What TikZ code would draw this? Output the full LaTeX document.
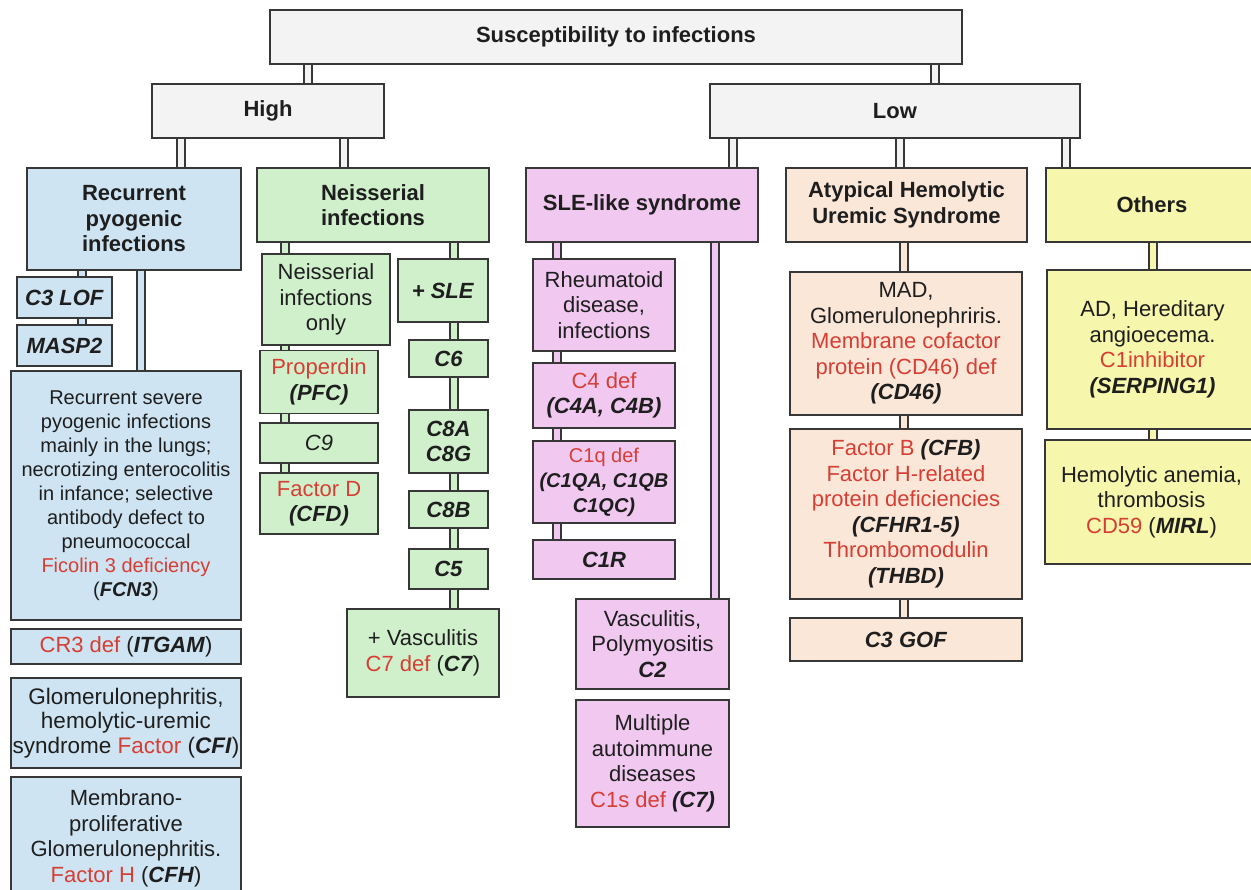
\documentclass[tikz,border=0pt]{standalone}
\usepackage{fontspec}
\setmainfont{Liberation Sans}
\usetikzlibrary{calc}
\definecolor{boxline}{RGB}{55,55,55}
\definecolor{txtdark}{RGB}{30,30,30}
\definecolor{txtred}{RGB}{214,62,52}
\definecolor{grayfill}{RGB}{243,243,243}
\definecolor{bluefill}{RGB}{206,228,242}
\definecolor{grnfill}{RGB}{208,240,204}
\definecolor{pinkfill}{RGB}{240,200,240}
\definecolor{peachfill}{RGB}{251,231,216}
\definecolor{yelfill}{RGB}{246,246,172}
\newcommand\rd[1]{\textcolor{txtred}{#1}}
\newcommand\gn[1]{\textbf{\textit{#1}}}
\tikzset{wh/.style 2 args={minimum width=#1, minimum height=#2}}

\begin{document}
\begin{tikzpicture}[x=1pt, y=-1pt, font=\fontsize{22}{25.5}\selectfont,
  box/.style={draw=boxline, line width=1.4pt, fill=#1, align=center, inner sep=0pt, text=txtdark},
  link/.style={draw=boxline, line width=1.3pt, double=#1, double distance=6.5pt}]
  \useasboundingbox (0,0) rectangle (1251,890);
  \clip (0,0) rectangle (1251,890);
  % top levels
  \node[box=grayfill, wh={692}{54}] (top) at (616,37) {\textbf{Susceptibility to infections}};
  \node[box=grayfill, wh={232}{54}] (hi) at (268,111) {\textbf{High}};
  \node[box=grayfill, wh={370}{54}] (lo) at (895,111) {\textbf{Low}};
  \node[box=bluefill, wh={214}{102}] (rec) at (134,219) {\textbf{Recurrent}\\\textbf{pyogenic}\\\textbf{infections}};
  \node[box=grnfill, wh={232}{74}] (nei) at (373,205) {\textbf{Neisserial}\\\textbf{infections}};
  \node[box=pinkfill, wh={232}{74}] (sle) at (642,205) {\textbf{SLE-like syndrome}};
  \node[box=peachfill, wh={241}{74}] (ahus) at (906.5,205) {\textbf{Atypical Hemolytic}\\\textbf{Uremic Syndrome}};
  \node[box=yelfill, wh={212}{74}] (oth) at (1152,205) {\textbf{Others}};
  % recurrent pyogenic
  \node[box=bluefill, wh={95}{41}] (c3lof) at (64.5,297.5) {\gn{C3 LOF}};
  \node[box=bluefill, wh={95}{41}] (masp) at (64.5,345.5) {\gn{MASP2}};
  \node[box=bluefill, wh={230}{249}, font=\fontsize{20}{24}\selectfont] (big) at (126,495.5)
    {Recurrent severe\\pyogenic infections\\mainly in the lungs;\\necrotizing enterocolitis\\in infance; selective\\antibody defect to\\pneumococcal\\\rd{Ficolin 3 deficiency}\\(\gn{FCN3})};
  \node[box=bluefill, wh={230}{35}] (cr3) at (126,646.5) {\rd{CR3 def} (\gn{ITGAM})};
  \node[box=bluefill, wh={230}{90}, font=\fontsize{22.5}{24.5}\selectfont] (glom) at (126,723)
    {Glomerulonephritis,\\hemolytic-uremic\\syndrome \rd{Factor} (\gn{CFI})};
  \node[box=bluefill, wh={230}{123}] (memb) at (126,838.5)
    {Membrano-\\proliferative\\Glomerulonephritis.\\\rd{Factor H} (\gn{CFH})};
  % neisserial
  \node[box=grnfill, wh={128}{91}] (only) at (326,299.5) {Neisserial\\infections\\only};
  \node[box=grnfill, wh={118}{63}] (prop) at (319,382) {\rd{Properdin}\\\gn{(PFC)}};
  \node[box=grnfill, wh={118}{40}] (c9) at (319,443) {\textit{C9}};
  \node[box=grnfill, wh={118}{61}] (cfd) at (319,503.5) {\rd{Factor D}\\\gn{(CFD)}};
  \node[box=grnfill, wh={90}{63}] (psle) at (443,290.5) {\gn{+ SLE}};
  \node[box=grnfill, wh={79}{37}] (c6) at (448.5,358.5) {\gn{C6}};
  \node[box=grnfill, wh={79}{63}] (c8a) at (448.5,441.5) {\gn{C8A}\\\gn{C8G}};
  \node[box=grnfill, wh={79}{37}] (c8b) at (448.5,509.5) {\gn{C8B}};
  \node[box=grnfill, wh={79}{40}] (c5) at (448.5,569) {\gn{C5}};
  \node[box=grnfill, wh={152}{88}] (c7) at (423,653) {+ Vasculitis\\\rd{C7 def} (\gn{C7})};
  % sle-like
  \node[box=pinkfill, wh={142}{92}] (rheu) at (604,305) {Rheumatoid\\disease,\\infections};
  \node[box=pinkfill, wh={142}{65}] (c4) at (604,395.5) {\rd{C4 def}\\\gn{(C4A, C4B)}};
  \node[box=pinkfill, wh={142}{82}, font=\fontsize{20}{25}\selectfont] (c1q) at (604,482)
    {\rd{C1q def}\\\gn{(C1QA, C1QB}\\\gn{C1QC)}};
  \node[box=pinkfill, wh={142}{39}] (c1r) at (604,559.5) {\gn{C1R}};
  \node[box=pinkfill, wh={153}{90}] (c2) at (652.5,644) {Vasculitis,\\Polymyositis\\\gn{C2}};
  \node[box=pinkfill, wh={153}{127}] (mult) at (652.5,763.5) {Multiple\\autoimmune\\diseases\\\rd{C1s def} \gn{(C7)}};
  % ahus
  \node[box=peachfill, wh={232}{143}] (mad) at (906,343.5)
    {MAD,\\Glomerulonephriris.\\\rd{Membrane cofactor}\\\rd{protein (CD46) def}\\\gn{(CD46)}};
  \node[box=peachfill, wh={232}{170}] (cfb) at (906,514)
    {\rd{Factor B} \gn{(CFB)}\\\rd{Factor H-related}\\\rd{protein deficiencies}\\\gn{(CFHR1-5)}\\\rd{Thrombomodulin}\\\gn{(THBD)}};
  \node[box=peachfill, wh={232}{43}] (c3gof) at (906,639.5) {\gn{C3 GOF}};
  % others
  \node[box=yelfill, wh={211}{159}] (ad) at (1152.5,349.5) {AD, Hereditary\\angioecema.\\\rd{C1inhibitor}\\\gn{(SERPING1)}};
  \node[box=yelfill, wh={213}{124}] (hem) at (1151.5,502) {Hemolytic anemia,\\thrombosis\\\rd{CD59} (\gn{MIRL})};

  % connectors
  \draw[link=grayfill] (top.south -| 308,0) -- (hi.north -| 308,0);
  \draw[link=grayfill] (top.south -| 935,0) -- (lo.north -| 935,0);
  \draw[link=grayfill] (hi.south -| 181,0) -- (rec.north -| 181,0);
  \draw[link=grayfill] (hi.south -| 344,0) -- (nei.north -| 344,0);
  \foreach \xx/\nn in {733/sle, 900/ahus, 1066/oth}
    \draw[link=grayfill] (lo.south -| \xx,0) -- (\nn.north -| \xx,0);
  \foreach \aa/\bb in {rec/c3lof, c3lof/masp}
    \draw[link=bluefill] (\aa.south -| 82,0) -- (\bb.north -| 82,0);
  \draw[link=bluefill] (rec.south -| 141,0) -- (big.north -| 141,0);
  \foreach \aa/\bb in {nei/only, only/prop, prop/c9, c9/cfd}
    \draw[link=grnfill] (\aa.south -| 285,0) -- (\bb.north -| 285,0);
  \foreach \aa/\bb in {nei/psle, psle/c6, c6/c8a, c8a/c8b, c8b/c5, c5/c7}
    \draw[link=grnfill] (\aa.south -| 454,0) -- (\bb.north -| 454,0);
  \foreach \aa/\bb in {sle/rheu, rheu/c4, c4/c1q, c1q/c1r}
    \draw[link=pinkfill] (\aa.south -| 557,0) -- (\bb.north -| 557,0);
  \draw[link=pinkfill] (sle.south -| 715,0) -- (c2.north -| 715,0);
  \foreach \aa/\bb in {ahus/mad, mad/cfb, cfb/c3gof}
    \draw[link=peachfill] (\aa.south -| 904,0) -- (\bb.north -| 904,0);
  \foreach \aa/\bb in {oth/ad, ad/hem}
    \draw[link=yelfill] (\aa.south -| 1153,0) -- (\bb.north -| 1153,0);
\end{tikzpicture}
\end{document}
